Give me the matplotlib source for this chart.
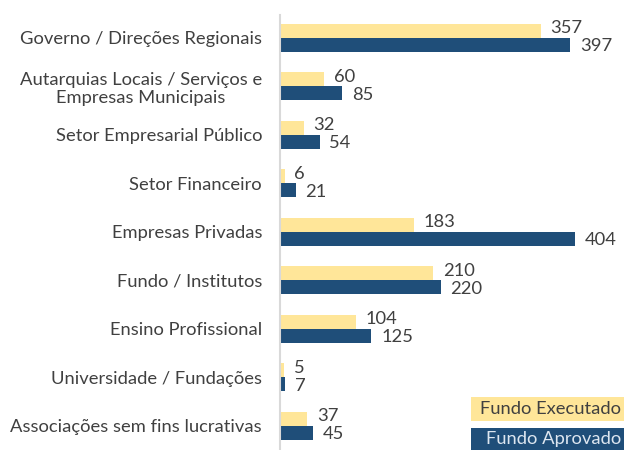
import numpy as np
import matplotlib.pyplot as plt
from matplotlib.patches import Rectangle

categorias = ['Governo / Direções Regionais',
              'Autarquias Locais / Serviços e\nEmpresas Municipais',
              'Setor Empresarial Público',
              'Setor Financeiro',
              'Empresas Privadas',
              'Fundo / Institutos',
              'Ensino Profissional',
              'Universidade / Fundações',
              'Associações sem fins lucrativas']
executado = [357, 60, 32, 6, 183, 210, 104, 5, 37]
aprovado = [397, 85, 54, 21, 404, 220, 125, 7, 45]

amarelo = '#FFE699'
azul = '#1F4E79'
cinza = '#404040'
fs = 13.2

plt.rcParams['font.family'] = ['Lato', 'DejaVu Sans']

fig = plt.figure(figsize=(6.24, 4.5), dpi=100)
ax = fig.add_axes([0.449, 0.0, 0.551, 0.967])

y = np.arange(len(categorias))
h = 0.29
ax.barh(y - 0.144, executado, height=h, color=amarelo)
ax.barh(y + 0.144, aprovado, height=h, color=azul)

for i in range(len(categorias)):
    ax.annotate(str(executado[i]), (executado[i], y[i] - 0.2), xytext=(7, 0),
                textcoords='offset points', va='center', ha='left',
                fontsize=fs, color=cinza)
    ax.annotate(str(aprovado[i]), (aprovado[i], y[i] + 0.17), xytext=(7, 0),
                textcoords='offset points', va='center', ha='left',
                fontsize=fs, color=cinza)

ax.set_xlim(0, 471)
ax.set_ylim(8.495, -0.474)
ax.set_yticks(y)
ax.set_yticklabels(categorias, fontsize=fs, color=cinza,
                   ha='right', multialignment='center')
ax.tick_params(axis='y', length=0, pad=13)
ax.set_xticks([])
for s in ['top', 'right', 'bottom']:
    ax.spines[s].set_visible(False)
ax.spines['left'].set_color('#D9D9D9')
ax.spines['left'].set_linewidth(1.5)

# legenda em caixas coloridas
fig.add_artist(Rectangle((0.755, 0.064), 0.245, 0.054, transform=fig.transFigure,
                         fc=amarelo, ec='none'))
fig.add_artist(Rectangle((0.755, 0.0), 0.245, 0.049, transform=fig.transFigure,
                         fc=azul, ec='none'))
fig.text(0.995, 0.091, 'Fundo Executado', ha='right', va='center', fontsize=fs,
         color=cinza)
fig.text(0.995, 0.024, 'Fundo Aprovado', ha='right', va='center', fontsize=fs,
         color='#DDE6F0')

fig.savefig('out.png', dpi=100)
